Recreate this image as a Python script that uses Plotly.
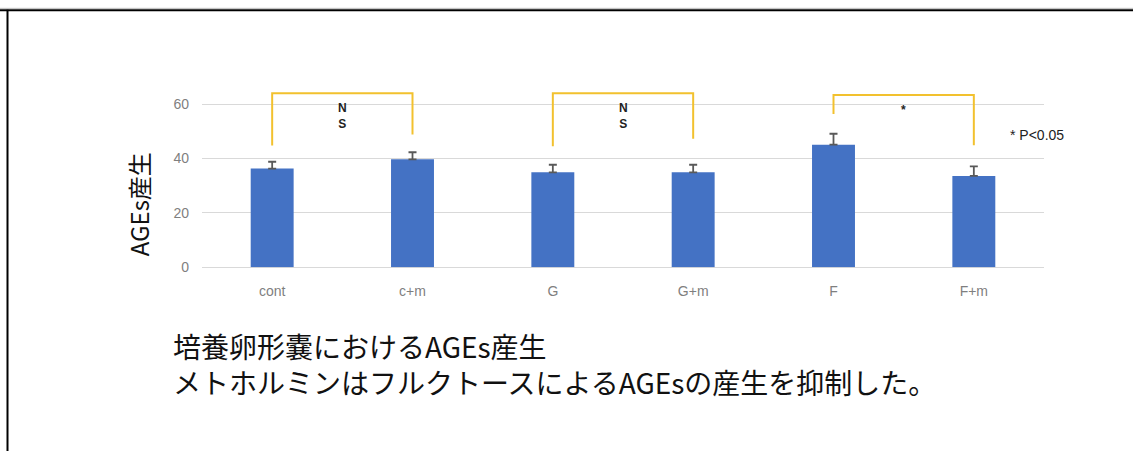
import plotly.graph_objects as go

W, H = 1133, 459

categories = ["cont", "c+m", "G", "G+m", "F", "F+m"]
means = [36.3, 39.7, 34.9, 34.9, 45.1, 33.6]
errors = [2.5, 2.6, 2.8, 2.8, 4.0, 3.5]

# significance brackets: (left index, right index, top, left-leg bottom, right-leg bottom, label)
bracket_left = [0, 2, 4]
bracket_right = [1, 3, 5]
bracket_top = [64.0, 64.0, 63.4]
bracket_lbottom = [44.8, 44.5, 56.4]
bracket_rbottom = [48.8, 47.3, 44.9]
bracket_labels = ["N<br>S", "N<br>S", "*"]

y_ticks = [0, 20, 40, 60]
title_lines = ["培養卵形嚢におけるAGEs産生", "メトホルミンはフルクトースによるAGEsの産生を抑制した。"]
y_title = "AGEs産生"
p_note = "* P<0.05"

def px(x):
    return x / W

def py(y):
    return 1 - y / H

x_pos = list(range(len(categories)))

fig = go.Figure()
fig.add_trace(go.Bar(
    x=x_pos, y=means, width=0.306,
    marker=dict(color="#4472C4", line=dict(width=0)),
    error_y=dict(type="data", symmetric=False, array=errors,
                 arrayminus=[0] * len(errors), color="#595959",
                 thickness=1.8, width=4),
    showlegend=False, hoverinfo="skip",
))

for i in range(len(bracket_left)):
    l, r = bracket_left[i], bracket_right[i]
    fig.add_trace(go.Scatter(
        x=[l, l, r, r],
        y=[bracket_lbottom[i], bracket_top[i], bracket_top[i], bracket_rbottom[i]],
        mode="lines", line=dict(color="#F2C12E", width=2),
        showlegend=False, hoverinfo="skip",
    ))
    fig.add_annotation(
        x=(l + r) / 2, y=bracket_top[i], xref="x", yref="y",
        text=f"<b>{bracket_labels[i]}</b>", showarrow=False,
        yanchor="top", yshift=-6,
        font=dict(family="Liberation Sans, Arial", size=12, color="#222222"),
    )

fig.add_annotation(
    x=px(1037), y=py(137), xref="paper", yref="paper",
    text=p_note, showarrow=False, xanchor="center", yanchor="middle",
    font=dict(family="Liberation Sans, Arial", size=14, color="#222222"),
)

fig.add_annotation(
    x=px(138), y=py(208), xref="paper", yref="paper",
    text=y_title, showarrow=False, textangle=-90,
    xanchor="center", yanchor="middle",
    font=dict(family="Noto Sans CJK JP", size=24, color="#111111"),
)

fig.add_annotation(
    x=px(171), y=py(370), xref="paper", yref="paper",
    text="<br>".join(title_lines), showarrow=False,
    xanchor="left", yanchor="middle", align="left",
    font=dict(family="Noto Sans CJK JP", size=28, color="#111111"),
)

# frame lines (top and left)
fig.add_shape(type="line", xref="paper", yref="paper",
              x0=0, x1=1, y0=py(10.5), y1=py(10.5),
              line=dict(color="black", width=2))
fig.add_shape(type="line", xref="paper", yref="paper",
              x0=px(7.5), x1=px(7.5), y0=py(10), y1=0,
              line=dict(color="black", width=2))
fig.add_shape(type="line", xref="paper", yref="paper",
              x0=0, x1=1, y0=py(8.5), y1=py(8.5),
              line=dict(color="#bbbbbb", width=1))

fig.update_layout(
    width=W, height=H,
    margin=dict(l=0, r=0, t=0, b=0),
    paper_bgcolor="white", plot_bgcolor="white",
    xaxis=dict(
        domain=[px(202), px(1044)],
        range=[-0.5, len(categories) - 0.5],
        tickvals=x_pos, ticktext=categories,
        showgrid=False, zeroline=False, showline=False,
        ticks="", ticklabelstandoff=14,
        tickfont=dict(family="Liberation Sans, Arial", size=14, color="#7f7f7f"),
    ),
    yaxis=dict(
        domain=[py(272), py(78.3)],
        range=[0, 70],
        tickvals=y_ticks,
        showgrid=True, gridcolor="#d9d9d9", gridwidth=1,
        zeroline=True, zerolinecolor="#d9d9d9", zerolinewidth=1,
        showline=False, ticks="", ticklabelstandoff=12,
        tickfont=dict(family="Liberation Sans, Arial", size=14, color="#7f7f7f"),
    ),
)

fig.write_html("out.html", config={"displayModeBar": False})
